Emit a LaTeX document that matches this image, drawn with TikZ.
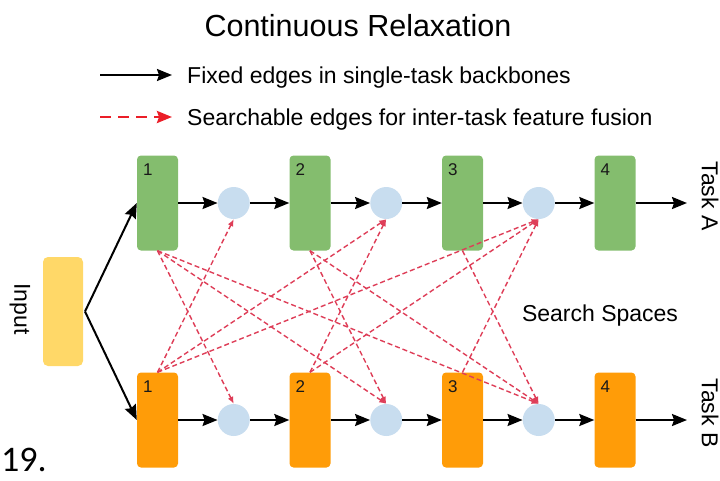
\documentclass[tikz,border=0pt]{standalone}
\usepackage{fontspec}
\setmainfont{Liberation Sans}
\newfontfamily\slidefont{Carlito}
\usetikzlibrary{arrows.meta}
\definecolor{boxgreen}{RGB}{132,189,110}
\definecolor{boxorange}{RGB}{255,156,8}
\definecolor{inyellow}{RGB}{255,216,104}
\definecolor{nodeblue}{RGB}{200,221,239}
\definecolor{searchred}{RGB}{222,62,88}
\definecolor{legendred}{RGB}{235,30,40}
\begin{document}
\begin{tikzpicture}[x=1pt,y=-1pt,
  layer/.style={rounded corners=4pt, minimum width=41pt, minimum height=95pt, inner sep=0pt},
  greenbox/.style={layer, fill=boxgreen},
  orangebox/.style={layer, fill=boxorange},
  fuse/.style={circle, fill=nodeblue, minimum size=32pt, inner sep=0pt},
  fixed/.style={line width=2pt, -{Stealth[length=15pt,width=12pt,inset=2pt]}},
  search/.style={searchred, line width=1.4pt, dash pattern=on 5pt off 3pt, -{Latex[length=7pt,width=6pt]}},
  legsearch/.style={legendred, line width=2.6pt, dash pattern=on 11pt off 7pt, -{Stealth[length=15pt,width=12pt,inset=2pt]}},
  num/.style={font=\fontsize{17}{17}\selectfont, text=black!90, anchor=north west, inner sep=0pt},
  lbl/.style={font=\fontsize{23}{23}\selectfont, inner sep=0pt}
]
\useasboundingbox (0,0) rectangle (720,480);

% title and legend
\node[font=\fontsize{30.5}{30.5}\selectfont, inner sep=0pt] (title) at (358,26) {Continuous Relaxation};
\coordinate (l1a) at (100,75);
\coordinate (l1b) at (172,75);
\draw[fixed] (l1a) -- (l1b);
\node[lbl, anchor=base west] (l1t) at (187,83) {Fixed edges in single-task backbones};
\coordinate (l2a) at (100,117);
\coordinate (l2b) at (172,117);
\draw[legsearch] (l2a) -- (l2b);
\node[lbl, anchor=base west] (l2t) at (187,125) {Searchable edges for inter-task feature fusion};

% input
\node[fill=inyellow, rounded corners=5pt, minimum width=40pt, minimum height=109pt, inner sep=0pt] (in) at (63,311.5) {};
\node[lbl, rotate=-90] (inlabel) at (20,309) {Input};
\coordinate (split) at (85,311.5);

% task A row
\node[greenbox] (g1) at (157.5,203) {};
\node[greenbox] (g2) at (310,203) {};
\node[greenbox] (g3) at (462.5,203) {};
\node[greenbox] (g4) at (615,203) {};
\node[fuse] (gc1) at (233.75,203) {};
\node[fuse] (gc2) at (386.25,203) {};
\node[fuse] (gc3) at (538.75,203) {};
\node[num, xshift=6pt, yshift=-8pt] at (g1.north west) {1};
\node[num, xshift=6pt, yshift=-8pt] at (g2.north west) {2};
\node[num, xshift=6pt, yshift=-8pt] at (g3.north west) {3};
\node[num, xshift=6pt, yshift=-8pt] at (g4.north west) {4};
\coordinate (aend) at (687,203);

% task B row
\node[orangebox] (o1) at (157.5,420) {};
\node[orangebox] (o2) at (310,420) {};
\node[orangebox] (o3) at (462.5,420) {};
\node[orangebox] (o4) at (615,420) {};
\node[fuse] (oc1) at (233.75,420) {};
\node[fuse] (oc2) at (386.25,420) {};
\node[fuse] (oc3) at (538.75,420) {};
\node[num, xshift=6pt, yshift=-8pt] at (o1.north west) {1};
\node[num, xshift=6pt, yshift=-8pt] at (o2.north west) {2};
\node[num, xshift=6pt, yshift=-8pt] at (o3.north west) {3};
\node[num, xshift=6pt, yshift=-8pt] at (o4.north west) {4};
\coordinate (bend) at (687,420);

% fixed edges
\draw[fixed] (split) -- (g1.west);
\draw[fixed] (split) -- (o1.west);
\draw[fixed] (g1) -- (gc1);
\draw[fixed] (gc1) -- (g2);
\draw[fixed] (g2) -- (gc2);
\draw[fixed] (gc2) -- (g3);
\draw[fixed] (g3) -- (gc3);
\draw[fixed] (gc3) -- (g4);
\draw[fixed] (g4.east) -- (aend);
\draw[fixed] (o1) -- (oc1);
\draw[fixed] (oc1) -- (o2);
\draw[fixed] (o2) -- (oc2);
\draw[fixed] (oc2) -- (o3);
\draw[fixed] (o3) -- (oc3);
\draw[fixed] (oc3) -- (o4);
\draw[fixed] (o4.east) -- (bend);

% searchable edges
\draw[search] (o1.north) -- (gc1.south);
\draw[search] (o1.north) -- (gc2.south);
\draw[search] (o1.north) -- (gc3.south);
\draw[search] (o2.north) -- (gc2.south);
\draw[search] (o2.north) -- (gc3.south);
\draw[search] (o3.north) -- (gc3.south);
\draw[search] (g1.south) -- (oc1.north);
\draw[search] (g1.south) -- (oc2.north);
\draw[search] (g1.south) -- (oc3.north);
\draw[search] (g2.south) -- (oc2.north);
\draw[search] (g2.south) -- (oc3.north);
\draw[search] (g3.south) -- (oc3.north);

% labels
\node[lbl, rotate=-90] (ta) at (710,196) {Task A};
\node[lbl, rotate=-90] (tb) at (710,413) {Task B};
\node[lbl, anchor=base] (ss) at (600,321) {Search Spaces};
\node[font=\slidefont\fontsize{36}{36}\selectfont, anchor=base west, inner sep=0pt] (pg) at (1,471) {19.};
\end{tikzpicture}
\end{document}
